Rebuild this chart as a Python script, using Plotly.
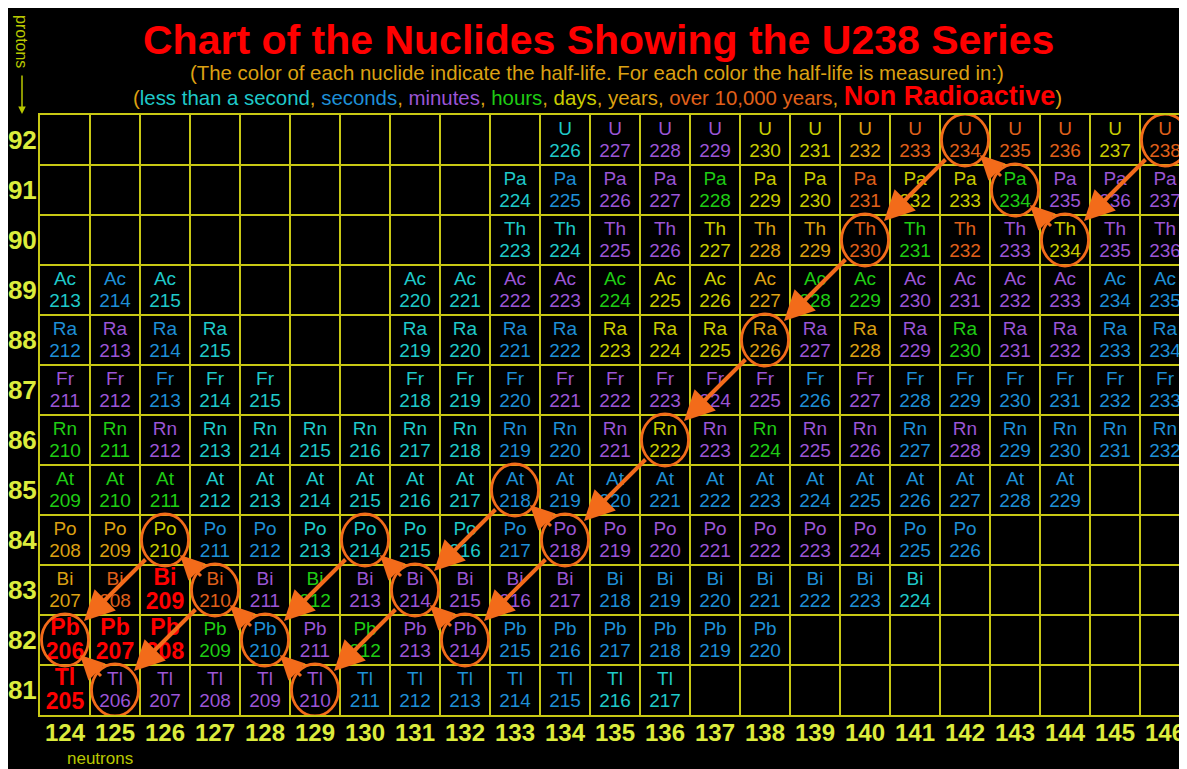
import plotly.graph_objects as go

# ---------------- data ----------------
neutron_numbers = list(range(124, 147))          # columns
proton_numbers = list(range(81, 93))             # rows
element_symbols = ['Tl', 'Pb', 'Bi', 'Po', 'At', 'Rn', 'Fr', 'Ra', 'Ac', 'Th', 'Pa', 'U']

# half-life class per cell (N = 124..146), '.' = no nuclide
# c <1 s, b seconds, m minutes, h hours, d days, y years, k >10,000 years, s stable
half_life_rows = [
    "smmmmmbbbbbcc..........",   # 81 Tl
    "ssshbmhmmbbbbbb........",   # 82 Pb
    "ykskmhmmmmmbbbbbbc.....",   # 83 Bi
    "yydbbccccbmmmmmmmbb....",   # 84 Po
    "hhhccccccbbbbbbbbbbbb..",   # 85 At
    "hhmccccccbbmdmhmmbmbbbb",   # 86 Rn
    "mmbcc..ccbmmmmmbmbbbbbb",   # 87 Fr
    "bmbc...ccbbdddymymhmmbb",   # 88 Ra
    "cbc....ccmmhddyhhmmmmbb",   # 89 Ac
    ".........ccmmdyykhkmdmm",   # 90 Th
    ".........cbmmhddkddhmmm",   # 91 Pa
    "..........cmmmddykkkkdk",   # 92 U
]

class_colors = {
    'c': '#1fc9c9', 'b': '#1e8fd6', 'm': '#9b55d6', 'h': '#1fcc14',
    'd': '#c9cc00', 'y': '#dca012', 'k': '#e0601a', 's': '#ff0000',
}

# U-238 series members (N, Z)
series_members = [(146, 92), (144, 90), (143, 91), (142, 92), (140, 90), (138, 88),
                  (136, 86), (134, 84), (133, 85), (132, 82), (131, 83), (130, 84),
                  (129, 81), (128, 82), (127, 83), (126, 84), (125, 81), (124, 82)]
alpha_decays = [((146, 92), (144, 90)), ((142, 92), (140, 90)), ((140, 90), (138, 88)),
                ((138, 88), (136, 86)), ((136, 86), (134, 84)), ((134, 84), (132, 82)),
                ((133, 85), (131, 83)), ((131, 83), (129, 81)), ((130, 84), (128, 82)),
                ((127, 83), (125, 81)), ((126, 84), (124, 82))]
beta_decays = [((144, 90), (143, 91)), ((143, 91), (142, 92)), ((134, 84), (133, 85)),
               ((132, 82), (131, 83)), ((131, 83), (130, 84)), ((129, 81), (128, 82)),
               ((128, 82), (127, 83)), ((127, 83), (126, 84)), ((125, 81), (124, 82))]

# ---------------- build ----------------
FONT = "Liberation Sans, Arial, sans-serif"
ORANGE = '#f36b1a'
GRID = '#c8c814'
LABEL = '#dcec3c'

sx, sy, sc, mx, my, mc, mt = [], [], [], [], [], [], []
bx, by, bsym, bnum = [], [], [], []
for zi, z in enumerate(proton_numbers):
    for ni, n in enumerate(neutron_numbers):
        cls = half_life_rows[zi][ni]
        if cls == '.':
            continue
        if cls == 's':
            bx.append(n); by.append(z)
            bsym.append(element_symbols[zi]); bnum.append(str(n + z))
        else:
            sx.append(n); sy.append(z + 0.2); sc.append(class_colors[cls])
            mx.append(n); my.append(z - 0.25); mc.append(class_colors[cls])
            mt.append((element_symbols[zi], str(n + z)))

fig = go.Figure()
fig.add_trace(go.Scatter(x=sx, y=sy, mode='text', text=[t[0] for t in mt],
                         textfont=dict(family=FONT, size=19, color=sc),
                         hoverinfo='skip', showlegend=False))
fig.add_trace(go.Scatter(x=mx, y=my, mode='text', text=[t[1] for t in mt],
                         textfont=dict(family=FONT, size=19, color=mc),
                         hoverinfo='skip', showlegend=False))
fig.add_trace(go.Scatter(x=bx, y=[v + 0.22 for v in by], mode='text', text=bsym,
                         textfont=dict(family=FONT, size=23, color='#ff0000', weight='bold'),
                         hoverinfo='skip', showlegend=False))
fig.add_trace(go.Scatter(x=bx, y=[v - 0.26 for v in by], mode='text', text=bnum,
                         textfont=dict(family=FONT, size=23, color='#ff0000', weight='bold'),
                         hoverinfo='skip', showlegend=False))

# circles around series members
for (n, z) in series_members:
    fig.add_shape(type='circle', xref='x', yref='y',
                  x0=n - 0.47, x1=n + 0.47, y0=z - 0.52, y1=z + 0.52,
                  line=dict(color=ORANGE, width=2.8))

# decay arrows
for (pn, pz), (dn, dz) in alpha_decays:
    fig.add_annotation(x=dn + 0.38, y=dz + 0.38, ax=pn - 0.36, ay=pz - 0.36,
                       xref='x', yref='y', axref='x', ayref='y', text='',
                       showarrow=True, arrowhead=2, arrowsize=1.5, arrowwidth=4,
                       arrowcolor=ORANGE)
for (pn, pz), (dn, dz) in beta_decays:
    fig.add_annotation(x=dn + 0.3, y=dz - 0.3, ax=pn - 0.25, ay=pz + 0.25,
                       xref='x', yref='y', axref='x', ayref='y', text='',
                       showarrow=True, arrowhead=2, arrowsize=1.6, arrowwidth=3,
                       arrowcolor=ORANGE)

# page coordinates (the page puts the figure 8 px from the top-left corner)
OFF = 8
L, T, PW, PH = 40, 115, 1147, 600
def px(x):
    return (x - L) / PW
def py(y):
    return (T + PH - y) / PH

# titles
fig.add_annotation(xref='paper', yref='paper', x=px(598), y=py(40),
                   text='<b>Chart of the Nuclides Showing the U238 Series</b>',
                   showarrow=False, font=dict(family=FONT, size=41, color='#ff0000'),
                   xanchor='center', yanchor='middle')
fig.add_annotation(xref='paper', yref='paper', x=px(597), y=py(73),
                   text='(The color of each nuclide indicate the half-life. For each color the half-life is measured in:)',
                   showarrow=False, font=dict(family=FONT, size=20.4, color='#dca012'),
                   xanchor='center', yanchor='middle')
legend_line = ('(<span style="color:#1fc9c9">less than a second</span>, '
               '<span style="color:#1e8fd6">seconds</span>, '
               '<span style="color:#9b55d6">minutes</span>, '
               '<span style="color:#1fcc14">hours</span>, '
               '<span style="color:#c9cc00">days</span>, '
               '<span style="color:#dca012">years</span>, '
               '<span style="color:#e0601a">over 10,000 years</span>, '
               '<span style="color:#ff0000;font-size:27px;font-weight:bold">Non Radioactive</span>)')
fig.add_annotation(xref='paper', yref='paper', x=px(597), y=py(96),
                   text=legend_line, showarrow=False,
                   font=dict(family=FONT, size=20.4, color='#dca012'),
                   xanchor='center', yanchor='middle')

# axis captions
fig.add_annotation(xref='paper', yref='paper', x=px(22), y=py(41), text='protons',
                   textangle=90, showarrow=False,
                   font=dict(family=FONT, size=16, color='#b9c800'),
                   xanchor='center', yanchor='middle')
fig.add_annotation(xref='paper', yref='paper', x=px(22), y=py(114), text='',
                   ax=0, ay=-40, axref='pixel', ayref='pixel',
                   showarrow=True, arrowhead=2, arrowsize=1, arrowwidth=1.5,
                   arrowcolor='#b9c800')
fig.add_annotation(xref='paper', yref='paper', x=px(100), y=py(758), text='neutrons',
                   showarrow=False, font=dict(family=FONT, size=17, color='#b9c800'),
                   xanchor='center', yanchor='middle')

FIG_W = 1187
fig.update_layout(
    width=FIG_W, height=769 - OFF,
    margin=dict(l=L - OFF, r=FIG_W - (L - OFF) - PW, t=T - OFF, b=769 - T - PH, autoexpand=False),
    paper_bgcolor='black', plot_bgcolor='black',
    showlegend=False,
    xaxis=dict(range=[123.5, 123.5 + PW / 50], tickmode='array', tickvals=neutron_numbers,
               ticktext=[str(n) for n in neutron_numbers], showgrid=False, zeroline=False,
               tickfont=dict(family=FONT, size=24, color=LABEL, weight='bold'),
               ticks='', ticklabelstandoff=-5,
               minor=dict(tickmode='array', tickvals=[n + 0.5 for n in range(123, 147)],
                          showgrid=True, gridcolor=GRID, gridwidth=2, ticks=''),
               showline=True, linecolor=GRID, linewidth=2, mirror=True, fixedrange=True),
    yaxis=dict(range=[80.5, 92.5], tickmode='array', tickvals=proton_numbers,
               ticktext=[str(z) for z in proton_numbers], showgrid=False, zeroline=False,
               tickfont=dict(family=FONT, size=26, color=LABEL, weight='bold'),
               ticks='', ticklabelstandoff=-4,
               minor=dict(tickmode='array', tickvals=[z + 0.5 for z in range(80, 93)],
                          showgrid=True, gridcolor=GRID, gridwidth=2, ticks=''),
               showline=True, linecolor=GRID, linewidth=2, mirror=False, fixedrange=True),
)

fig.write_html("out.html")
